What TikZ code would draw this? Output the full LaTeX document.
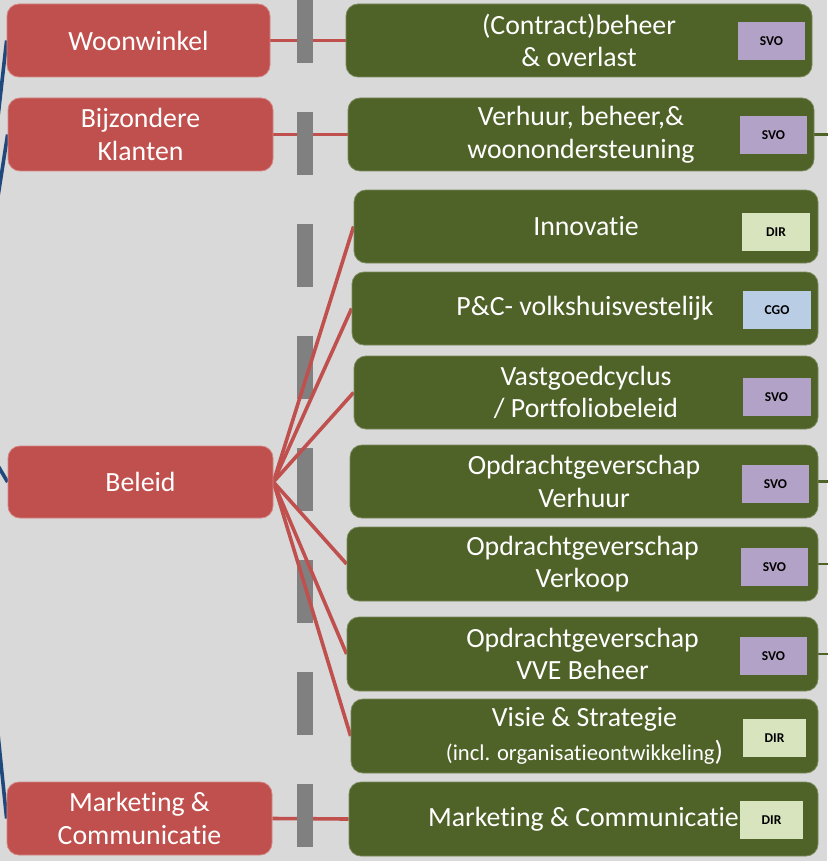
\documentclass[tikz,border=0pt]{standalone}
\usepackage{fontspec}
\setmainfont{Carlito}[Ligatures={NoCommon,TeX}]
\usetikzlibrary{backgrounds}
\definecolor{bgc}{HTML}{D9D9D9}
\definecolor{redc}{HTML}{C0504D}
\definecolor{redb}{HTML}{D38482}
\definecolor{greenc}{HTML}{4F6228}
\definecolor{greenb}{HTML}{7A8A5C}
\definecolor{svoc}{HTML}{B3A2C7}
\definecolor{dirc}{HTML}{D7E4BD}
\definecolor{cgoc}{HTML}{B9CDE5}
\definecolor{grayc}{HTML}{808080}
\definecolor{bluec}{HTML}{1F497D}
\newcommand{\mainfnt}{\fontsize{27.8}{32.5}\selectfont}
\begin{document}
\begin{tikzpicture}[x=1pt,y=-1pt,
  redbox/.style={fill=redc, draw=redb, line width=0.8pt, rounded corners=12pt,
    text=white, inner sep=0pt, align=center, font=\mainfnt, minimum height=73pt},
  greenbox/.style={fill=greenc, draw=greenb, line width=0.8pt, rounded corners=12pt,
    text=white, inner sep=0pt, align=center, font=\mainfnt, minimum height=73pt},
  badge/.style={inner sep=0pt, minimum height=38pt, minimum width=67pt, text=black,
    font=\bfseries\fontsize{13.5}{15}\selectfont},
  svo/.style={badge, fill=svoc},
  dirb/.style={badge, fill=dirc},
  cgo/.style={badge, fill=cgoc},
  redline/.style={draw=redc, line width=3.6pt},
  blueline/.style={draw=bluec, line width=3.6pt},
  greenline/.style={draw=greenc, line width=2.6pt},
  graydash/.style={draw=grayc, line width=16pt, dash pattern=on 63pt off 49pt}
]
\useasboundingbox (0,0) rectangle (827,861);
\clip (0,0) rectangle (827,861);

% red boxes
\node[redbox, minimum width=263pt] (woon) at (138.5,40.5) {Woonwinkel};
\node[redbox, minimum width=265pt] (bijz) at (140.5,134.5) {Bijzondere\\Klanten};
\node[redbox, minimum width=265pt, minimum height=72pt] (beleid) at (140.5,482) {Beleid};
\node[redbox, minimum width=265pt] (mark) at (139.5,818.5) {Marketing \&\\Communicatie};

% green boxes
\node[greenbox, minimum width=466pt] (g1) at (579,40.5) {(Contract)beheer\\\& overlast};
\node[greenbox, minimum width=466pt] (g2) at (581,134.5) {Verhuur, beheer,\&\\woonondersteuning};
\node[greenbox, minimum width=464pt] (g3) at (586,226.5) {Innovatie};
\node[greenbox, minimum width=466pt] (g4) at (585,308.5) {P\&C- volkshuisvestelijk};
\node[greenbox, minimum width=464pt] (g5) at (586,392.5) {Vastgoedcyclus\\/ Portfoliobeleid};
\node[greenbox, minimum width=468pt] (g6) at (584,481.5) {Opdrachtgeverschap\\Verhuur};
\node[greenbox, minimum width=471pt, minimum height=74pt] (g7) at (582.5,564) {Opdrachtgeverschap\\Verkoop};
\node[greenbox, minimum width=471pt, minimum height=74pt] (g8) at (582.5,654) {Opdrachtgeverschap\\VVE Beheer};
\node[greenbox, minimum width=467pt, minimum height=74pt] (g9) at (584.5,736) {Visie \& Strategie\\[1pt]{\fontsize{22.6}{26}\selectfont(incl. organisatieontwikkeling}{)}};
\node[greenbox, minimum width=469pt, minimum height=74pt] (g10) at (583.5,819) {Marketing \& Communicatie};

% badges
\node[svo] (b1) at (771.5,41) {SVO};
\node[svo] (b2) at (773.5,135) {SVO};
\node[dirb, minimum width=68pt] (b3) at (776,232) {DIR};
\node[cgo, minimum width=68pt] (b4) at (777,310) {CGO};
\node[svo, minimum width=68pt] (b5) at (776.5,397) {SVO};
\node[svo] (b6) at (775.5,484) {SVO};
\node[svo] (b7) at (774.5,567) {SVO};
\node[svo] (b8) at (773.5,656) {SVO};
\node[dirb, minimum width=63pt] (b9) at (774.5,738) {DIR};
\node[dirb, minimum width=63pt] (b10) at (771.5,820) {DIR};

% free ends
\coordinate (src) at (-35,410);
\coordinate (r2) at (830,134.5);
\coordinate (r6) at (830,481.5);
\coordinate (r7) at (830,564);
\coordinate (r8) at (830,654);
\coordinate (dtop) at (305,0);
\coordinate (dbot) at (305,870);

\begin{scope}[on background layer]
  \fill[bgc] (0,0) rectangle (827,861);
  \draw[blueline] (src) -- (woon.west);
  \draw[blueline] (src) -- (bijz.west);
  \draw[blueline] (src) -- (beleid.west);
  \draw[blueline] (src) -- (mark.west);
  \draw[redline] (woon.east) -- (g1.west);
  \draw[redline] (bijz.east) -- (g2.west);
  \draw[redline] (mark.east) -- (g10.west);
  \draw[greenline] (g2.east) -- (r2);
  \draw[greenline] (g6.east) -- (r6);
  \draw[greenline] (g7.east) -- (r7);
  \draw[greenline] (g8.east) -- (r8);
  \draw[graydash] (dtop) -- (dbot);
  \draw[redline] (beleid.east) -- (g3.west);
  \draw[redline] (beleid.east) -- (g4.west);
  \draw[redline] (beleid.east) -- (g5.west);
  \draw[redline] (beleid.east) -- (g7.west);
  \draw[redline] (beleid.east) -- (g8.west);
  \draw[redline] (beleid.east) -- (g9.west);
\end{scope}
\end{tikzpicture}
\end{document}
